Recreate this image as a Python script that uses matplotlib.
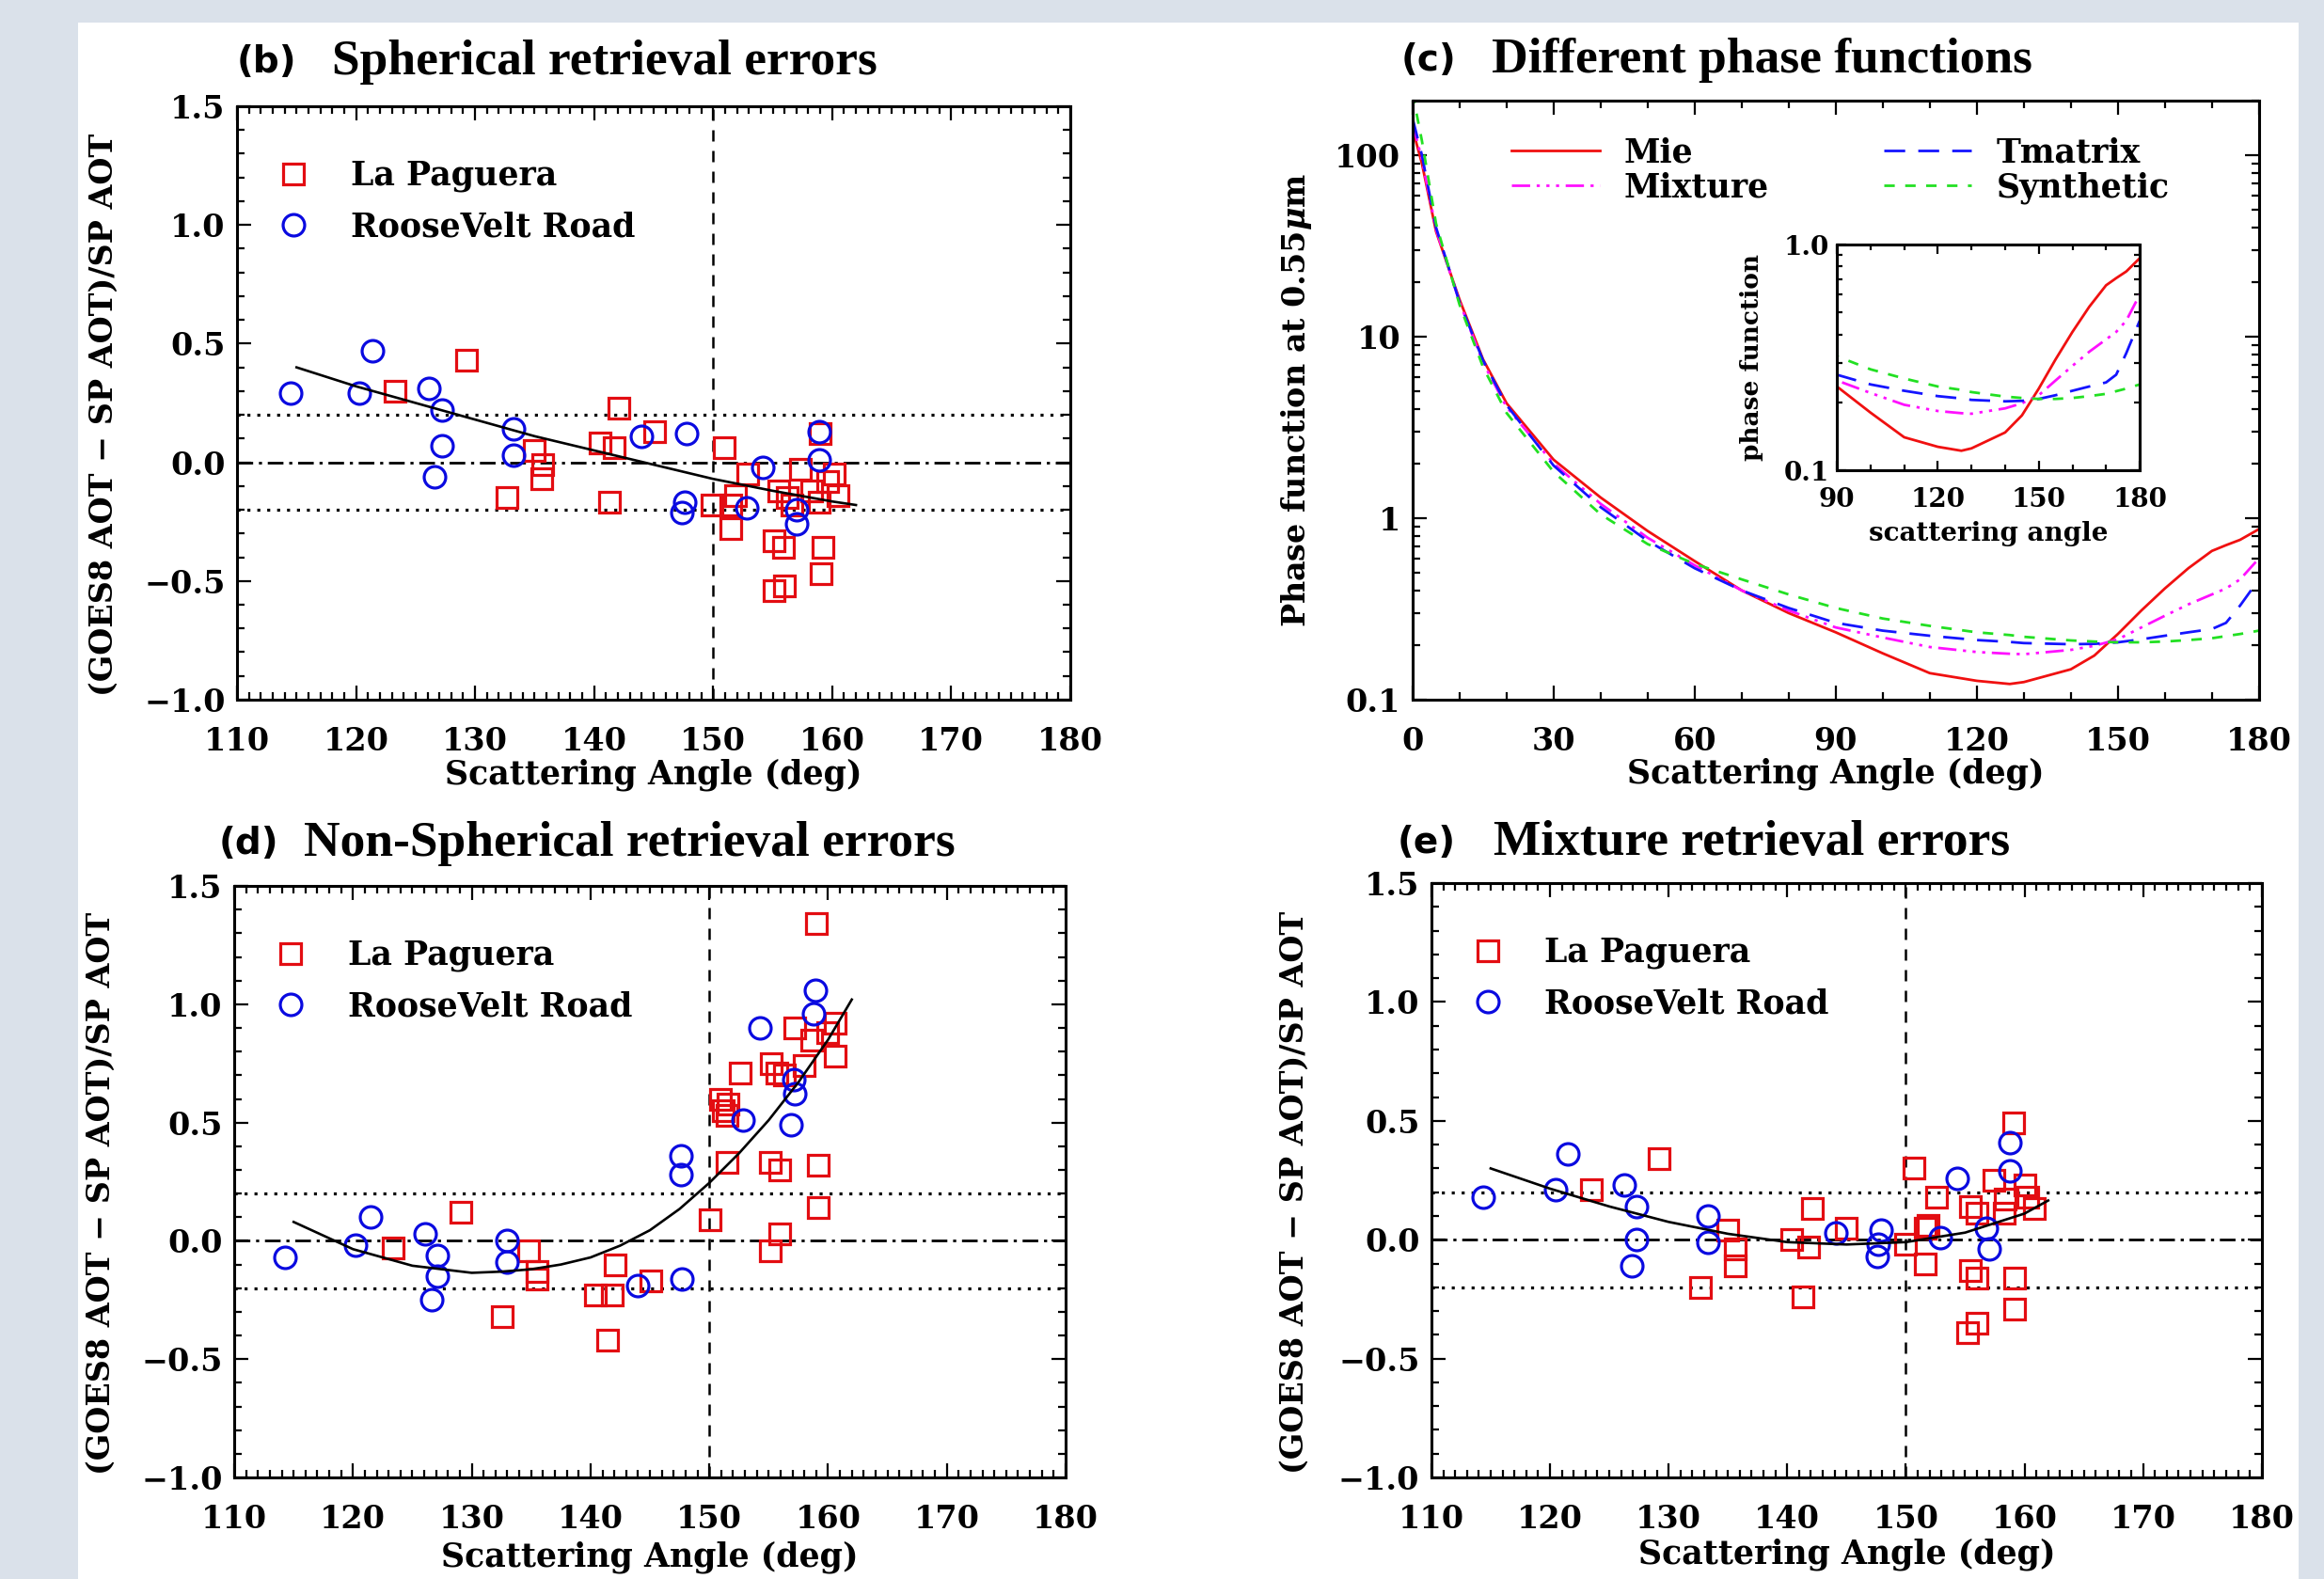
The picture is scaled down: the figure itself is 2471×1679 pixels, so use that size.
import matplotlib
matplotlib.use('Agg')
import matplotlib.pyplot as plt
from matplotlib.patches import Rectangle
from matplotlib.ticker import MultipleLocator, LogLocator, NullFormatter

# ---- data ----
# (b) spherical retrieval errors
b_lp_x = [123.3, 129.3, 135.0, 135.7, 135.6, 132.7, 140.5, 141.7, 142.1, 141.3, 145.1, 150.9, 149.9,
          151.5, 151.5, 151.9, 152.9, 155.5, 156.2, 155.1, 155.9, 155.1, 156.0, 157.3, 158.3, 158.9,
          159.0, 159.6, 160.2, 160.5, 159.2, 159.1, 156.6]
b_lp_y = [0.30, 0.43, 0.05, -0.01, -0.07, -0.15, 0.08, 0.06, 0.23, -0.17, 0.13, 0.06, -0.18,
          -0.18, -0.28, -0.14, -0.05, -0.12, -0.15, -0.33, -0.36, -0.54, -0.52, -0.03, -0.12, -0.17,
          0.12, -0.08, -0.05, -0.14, -0.36, -0.47, -0.18]
b_rr_x = [114.5, 120.3, 121.4, 126.1, 127.2, 127.2, 126.6, 133.2, 133.2, 144.0, 147.8, 147.6, 147.4,
          154.2, 152.8, 157.0, 157.0, 158.9, 158.9]
b_rr_y = [0.29, 0.29, 0.47, 0.31, 0.22, 0.07, -0.06, 0.14, 0.03, 0.11, 0.12, -0.17, -0.21,
          -0.02, -0.19, -0.20, -0.26, 0.13, 0.01]

# (d) non-spherical retrieval errors
d_lp_x = [123.4, 129.1, 134.8, 135.5, 135.5, 132.6, 140.4, 141.8, 142.1, 141.4, 145.1, 159.0, 157.2,
          158.6, 160.6, 160.0, 160.6, 158.0, 155.2, 155.7, 156.3, 152.6, 150.9, 151.6, 151.2, 151.5,
          151.5, 155.1, 155.9, 159.2, 159.2, 150.1, 155.9, 155.1]
d_lp_y = [-0.03, 0.12, -0.04, -0.13, -0.16, -0.32, -0.23, -0.23, -0.10, -0.42, -0.17, 1.34, 0.90,
          0.85, 0.92, 0.88, 0.78, 0.74, 0.75, 0.71, 0.70, 0.71, 0.60, 0.58, 0.55, 0.53,
          0.33, 0.33, 0.30, 0.32, 0.14, 0.09, 0.03, -0.04]
d_rr_x = [114.3, 120.2, 121.5, 126.1, 127.1, 127.1, 126.6, 133.0, 133.0, 144.0, 147.7, 147.6, 147.6,
          154.3, 152.8, 156.9, 157.1, 157.2, 158.9, 158.8]
d_rr_y = [-0.07, -0.02, 0.10, 0.03, -0.06, -0.15, -0.25, 0.00, -0.09, -0.19, -0.16, 0.36, 0.28,
          0.90, 0.51, 0.49, 0.68, 0.62, 1.06, 0.96]

# (e) mixture retrieval errors
e_lp_x = [123.5, 129.2, 135.0, 135.6, 135.6, 132.7, 140.4, 141.8, 142.1, 141.3, 145.0, 150.7, 150.0,
          151.6, 151.9, 151.6, 152.6, 155.4, 156.0, 157.4, 158.3, 158.4, 159.1, 160.0, 160.3, 160.8,
          155.4, 156.0, 155.2, 156.0, 159.2, 159.2]
e_lp_y = [0.21, 0.34, 0.04, -0.04, -0.11, -0.20, 0.00, -0.03, 0.13, -0.24, 0.05, 0.30, -0.02,
          0.05, 0.06, -0.10, 0.18, 0.14, 0.11, 0.25, 0.11, 0.17, 0.49, 0.23, 0.18, 0.13,
          -0.13, -0.16, -0.39, -0.35, -0.16, -0.29]
e_rr_x = [114.4, 120.5, 121.5, 126.3, 127.3, 127.3, 126.9, 133.3, 133.3, 144.1, 147.9, 147.6, 147.7,
          154.3, 152.9, 156.8, 157.0, 158.8, 158.8]
e_rr_y = [0.18, 0.21, 0.36, 0.23, 0.14, 0.00, -0.11, 0.10, -0.01, 0.03, 0.04, -0.07, -0.02,
          0.26, 0.01, 0.05, -0.04, 0.41, 0.29]

# fitted curves
fit_x = [115, 120, 125, 130, 135, 140, 145, 150, 155, 160, 162]
b_fit = [0.40, 0.32, 0.25, 0.18, 0.11, 0.05, -0.01, -0.07, -0.12, -0.165, -0.18]
e_fit = [0.30, 0.215, 0.14, 0.075, 0.025, -0.01, -0.02, -0.01, 0.03, 0.11, 0.165]
d_fit_x = [115, 120, 125, 130, 132.5, 135, 137.5, 140, 142.5, 145, 147.5, 150, 152.5, 155, 157.5,
           160, 162]
d_fit = [0.08, -0.035, -0.105, -0.135, -0.13, -0.12, -0.10, -0.07, -0.02, 0.045, 0.135, 0.245,
         0.37, 0.51, 0.67, 0.85, 1.02]

# (c) phase functions at 0.55 um
pf_angle = [0, 2, 5, 10, 15, 20, 30, 40, 50, 60, 70, 80, 90, 100, 110, 120, 127, 130, 140, 145,
            150, 155, 160, 165, 170, 173, 176, 180]
mie = [140, 90, 38, 16, 7.5, 4.3, 2.1, 1.3, 0.85, 0.58, 0.40, 0.30, 0.235, 0.18, 0.14, 0.127, 0.122,
       0.125, 0.147, 0.175, 0.23, 0.31, 0.41, 0.53, 0.66, 0.71, 0.76, 0.87]
mixture = [150, 95, 39, 15.5, 7.2, 4.1, 2.0, 1.2, 0.78, 0.55, 0.40, 0.31, 0.25, 0.22, 0.195, 0.183,
           0.179, 0.178, 0.188, 0.198, 0.215, 0.25, 0.29, 0.335, 0.38, 0.41, 0.46, 0.60]
tmatrix = [160, 100, 40, 15.5, 7.4, 4.2, 1.95, 1.15, 0.75, 0.53, 0.40, 0.32, 0.265, 0.24, 0.225,
           0.213, 0.208, 0.205, 0.202, 0.203, 0.207, 0.215, 0.225, 0.235, 0.245, 0.265, 0.33, 0.46]
synthetic = [220, 120, 42, 15, 6.8, 3.8, 1.8, 1.05, 0.72, 0.56, 0.46, 0.38, 0.32, 0.28, 0.255, 0.235,
             0.227, 0.222, 0.212, 0.209, 0.207, 0.207, 0.209, 0.213, 0.218, 0.224, 0.23, 0.24]

err_ticks = [-1.0, -0.5, 0.0, 0.5, 1.0, 1.5]
err_labels = ['\u22121.0', '\u22120.5', '0.0', '0.5', '1.0', '1.5']
pf_ticks = [0.1, 1, 10, 100]
pf_labels = ['0.1', '1', '10', '100']

RED = '#e30d12'
BLUE = '#0a0ae0'

plt.rcParams['font.family'] = 'DejaVu Serif'
plt.rcParams['font.weight'] = 'bold'
plt.rcParams['axes.labelweight'] = 'bold'
plt.rcParams['mathtext.fontset'] = 'dejavuserif'
plt.rcParams['axes.linewidth'] = 2.2

fig = plt.figure(figsize=(24.71, 16.79), dpi=100)
fig.patch.set_facecolor('#dae1ea')
fig.add_artist(Rectangle((0.0336, 0.0), 0.9555, 0.9857, transform=fig.transFigure,
                         facecolor='white', edgecolor='none', zorder=-1))


def style_ticks(ax, size=24, xpad=20, ypad=9, major=11, minor=5.5):
    ax.tick_params(which='both', direction='in', top=True, right=True, width=1.6, labelsize=size)
    ax.tick_params(which='major', length=major)
    ax.tick_params(which='minor', length=minor)
    ax.tick_params(axis='x', pad=xpad)
    ax.tick_params(axis='y', pad=ypad)


def panel_title(ax, letter, title, lx, tx, y):
    ax.text(lx, y, letter, transform=ax.transAxes, fontfamily='DejaVu Sans', fontweight='bold',
            fontsize=28, va='center', ha='left')
    ax.text(tx, y, title, transform=ax.transAxes, fontfamily='Liberation Serif', fontweight='bold',
            fontsize=38.5, va='center', ha='left')


def error_panel(ax, lp_x, lp_y, rr_x, rr_y, curve_x, curve_y, xlab_y, ylab_x):
    # reference lines
    ax.axvline(150, color='k', lw=1.8, dashes=(4.8, 4))
    ax.axhline(0.2, color='k', lw=2.3, dashes=(1.0, 2.3))
    ax.axhline(-0.2, color='k', lw=2.3, dashes=(1.0, 2.3))
    ax.axhline(0.0, color='k', lw=2.0, dashes=(6, 2.2, 1.2, 2.2))
    # the two sites
    ax.plot(lp_x, lp_y, ls='none', marker='s', ms=16.5, mfc='none', mec=RED, mew=2.3,
            label='La Paguera')
    ax.plot(rr_x, rr_y, ls='none', marker='o', ms=16.5, mfc='none', mec=BLUE, mew=2.3,
            label='RooseVelt Road')
    # fitted curve
    ax.plot(curve_x, curve_y, color='k', lw=1.9)

    ax.set_xlim(110, 180)
    ax.set_ylim(-1.0, 1.5)
    ax.set_xticks(range(110, 181, 10))
    ax.xaxis.set_minor_locator(MultipleLocator(1))
    ax.set_yticks(err_ticks, labels=err_labels)
    ax.yaxis.set_minor_locator(MultipleLocator(0.1))
    style_ticks(ax)
    ax.set_xlabel('Scattering Angle (deg)', fontsize=25, va='center')
    ax.xaxis.set_label_coords(0.5, xlab_y)
    ax.set_ylabel('(GOES8 AOT \u2212 SP AOT)/SP AOT', fontsize=24, va='center')
    ax.yaxis.set_label_coords(ylab_x, 0.48)
    ax.legend(loc='upper left', bbox_to_anchor=(0.05, 0.91), frameon=False, fontsize=25,
              handlelength=0.9, handletextpad=1.3, labelspacing=0.58, borderpad=0,
              borderaxespad=0, numpoints=1)


# ---- (b) ----
ax_b = fig.add_axes([0.102, 0.5569, 0.3585, 0.3758])
error_panel(ax_b, b_lp_x, b_lp_y, b_rr_x, b_rr_y, fit_x, b_fit, -0.127, -0.16)
panel_title(ax_b, '(b)', 'Spherical retrieval errors', 0.0, 0.114, 1.074)

# ---- (d) ----
ax_d = fig.add_axes([0.1008, 0.0643, 0.3577, 0.3746])
error_panel(ax_d, d_lp_x, d_lp_y, d_rr_x, d_rr_y, d_fit_x, d_fit, -0.135, -0.161)
panel_title(ax_d, '(d)', 'Non-Spherical retrieval errors', -0.019, 0.084, 1.072)

# ---- (e) ----
ax_e = fig.add_axes([0.6159, 0.0643, 0.3573, 0.3764])
error_panel(ax_e, e_lp_x, e_lp_y, e_rr_x, e_rr_y, fit_x, e_fit, -0.13, -0.165)
panel_title(ax_e, '(e)', 'Mixture retrieval errors', -0.041, 0.075, 1.068)

# ---- (c) phase functions ----
ax_c = fig.add_axes([0.6078, 0.5569, 0.3642, 0.3794])


def phase_lines(ax, lw):
    ax.plot(pf_angle, mie, color='#f01010', lw=lw, label='Mie')
    ax.plot(pf_angle, mixture, color='#ff10ff', lw=lw, dashes=(7, 2.5, 1.2, 2.5, 1.2, 2.5, 1.2, 2.5),
            label='Mixture')
    ax.plot(pf_angle, tmatrix, color='#1414ff', lw=lw, dashes=(8, 5), label='Tmatrix')
    ax.plot(pf_angle, synthetic, color='#22e022', lw=lw, dashes=(4, 4), label='Synthetic')


phase_lines(ax_c, 2.0)
ax_c.set_yscale('log')
ax_c.set_xlim(0, 180)
ax_c.set_ylim(0.1, 200)
ax_c.set_xticks(range(0, 181, 30))
ax_c.xaxis.set_minor_locator(MultipleLocator(10))
ax_c.set_yticks(pf_ticks, labels=pf_labels)
ax_c.yaxis.set_minor_locator(LogLocator(base=10, subs=range(2, 10)))
ax_c.yaxis.set_minor_formatter(NullFormatter())
style_ticks(ax_c)
ax_c.set_xlabel('Scattering Angle (deg)', fontsize=25, va='center')
ax_c.xaxis.set_label_coords(0.5, -0.124)
ax_c.set_ylabel(r'Phase function at 0.55$\mu$m', fontsize=24, va='center')
ax_c.yaxis.set_label_coords(-0.137, 0.5)
ax_c.legend(loc='upper left', bbox_to_anchor=(0.117, 0.94), ncol=2, frameon=False, fontsize=25,
            handlelength=2.7, handletextpad=0.75, columnspacing=3.5, labelspacing=0.1,
            borderpad=0, borderaxespad=0)
panel_title(ax_c, '(c)', 'Different phase functions', -0.014, 0.094, 1.068)

# inset: back-scattering part
ax_in = fig.add_axes([0.7904, 0.7022, 0.1303, 0.1429])
phase_lines(ax_in, 2.0)
ax_in.set_yscale('log')
ax_in.set_xlim(90, 180)
ax_in.set_ylim(0.1, 1.0)
ax_in.set_xticks([90, 120, 150, 180])
ax_in.xaxis.set_minor_locator(MultipleLocator(10))
ax_in.set_yticks([0.1, 1.0], labels=['0.1', '1.0'])
ax_in.yaxis.set_minor_locator(LogLocator(base=10, subs=range(2, 10)))
ax_in.yaxis.set_minor_formatter(NullFormatter())
style_ticks(ax_in, size=20, xpad=13, ypad=6, major=7, minor=4)
ax_in.set_xlabel('scattering angle', fontsize=20, va='center')
ax_in.xaxis.set_label_coords(0.5, -0.28)
ax_in.set_ylabel('phase function', fontsize=19, va='center')
ax_in.yaxis.set_label_coords(-0.28, 0.5)

fig.savefig('out.png', dpi=100)
